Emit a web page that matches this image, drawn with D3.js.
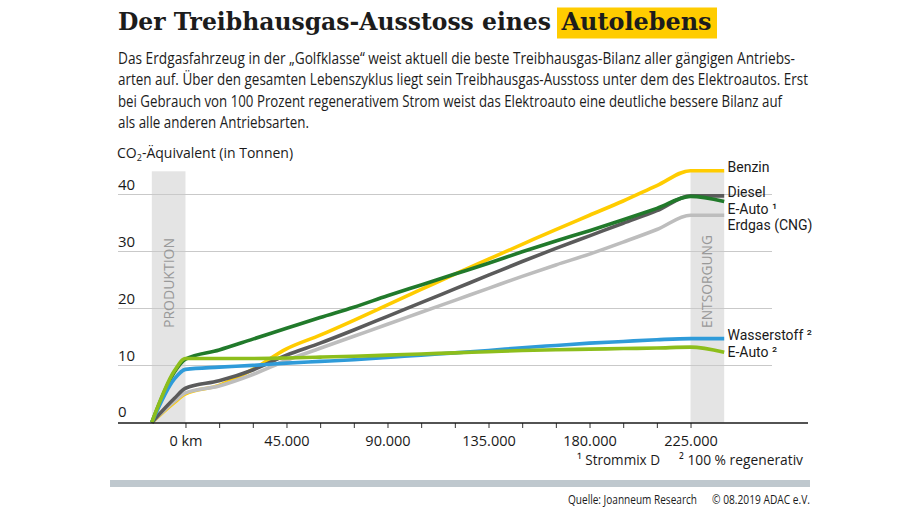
<!DOCTYPE html>
<html><head><meta charset="utf-8">
<script src="https://cdn.jsdelivr.net/npm/d3@7"></script>
<style>
html,body{margin:0;padding:0;background:#fff;}
svg{display:block;}
text{font-family:"Open Sans","Noto Sans",sans-serif;fill:#1a1a1a;}
</style></head>
<body>
<svg id="chart" width="920" height="510"></svg>
<script>
// ---------- data ----------
const km = [-15000, -5000, 0, 15000, 30000, 45000, 60000, 75000, 90000, 105000, 120000, 135000, 150000, 165000, 180000, 195000, 210000, 225000, 240000];
const benzin      = [0, 3.5, 5.0, 6.5, 9.3, 12.9, 15.3, 17.9, 20.6, 23.3, 26.0, 28.6, 31.2, 33.8, 36.3, 38.8, 41.5, 44.1, 44.1];
const diesel      = [0, 4.2, 6.0, 7.3, 9.2, 11.8, 13.9, 16.2, 18.6, 21.0, 23.4, 25.8, 28.2, 30.5, 32.7, 34.9, 37.1, 39.7, 39.7];
const eAutoMix    = [0, 8.8, 11.1, 12.7, 14.6, 16.5, 18.4, 20.2, 22.2, 24.1, 26.0, 27.9, 29.9, 31.8, 33.6, 35.5, 37.5, 39.6, 38.7];
const erdgas      = [0, 3.7, 5.2, 6.4, 8.4, 10.9, 13.0, 15.1, 17.2, 19.3, 21.4, 23.5, 25.6, 27.6, 29.5, 31.6, 33.8, 36.3, 36.3];
const wasserstoff = [0, 7.6, 9.3, 9.7, 10.0, 10.4, 10.7, 11.0, 11.4, 11.8, 12.2, 12.6, 13.1, 13.5, 13.9, 14.2, 14.5, 14.7, 14.7];
const eAutoRegen  = [0, 9.0, 11.2, 11.2, 11.2, 11.3, 11.45, 11.6, 11.8, 12.0, 12.2, 12.4, 12.6, 12.75, 12.85, 12.95, 13.05, 13.2, 12.3];

const seriesNames  = ["Benzin", "Erdgas (CNG)", "Diesel", "E-Auto \u00b9", "Wasserstoff \u00b2", "E-Auto \u00b2"];
const seriesValues = [benzin, erdgas, diesel, eAutoMix, wasserstoff, eAutoRegen];
const seriesColors = ["#ffcc00", "#bdbdbd", "#5b5b5b", "#217a2b", "#2f9bd9", "#8dbe1c"];

const yTicks = [0, 10, 20, 30, 40];
const xTicks = [0, 15000, 30000, 45000, 60000, 75000, 90000, 105000, 120000, 135000, 150000, 165000, 180000, 195000, 210000, 225000];
const xTickLabels = {0: "0 km", 45000: "45.000", 90000: "90.000", 135000: "135.000", 180000: "180.000", 225000: "225.000"};
const phaseNames = ["PRODUKTION", "ENTSORGUNG"];
const phaseFrom  = [-15000, 225000];
const phaseTo    = [0, 240000];
const phaseTop   = 44;

const titleMain = "Der Treibhausgas-Ausstoss eines";
const titleHighlight = "Autolebens";
const bodyLines = [
  "Das Erdgasfahrzeug in der \u201eGolfklasse\u201c weist aktuell die beste Treibhausgas-Bilanz aller g\u00e4ngigen Antriebs-",
  "arten auf. \u00dcber den gesamten Lebenszyklus liegt sein Treibhausgas-Ausstoss unter dem des Elektroautos. Erst",
  "bei Gebrauch von 100 Prozent regenerativem Strom weist das Elektroauto eine deutliche bessere Bilanz auf",
  "als alle anderen Antriebsarten."
];

// ---------- drawing ----------
const svg = d3.select("#chart");
const x = d3.scaleLinear().domain([-15000, 240000]).range([151.8, 724.2]);
const y = d3.scaleLinear().domain([0, 44]).range([422.5, 171.3]);

function fit(sel, w) {
  sel.attr("textLength", w).attr("lengthAdjust", "spacingAndGlyphs");
}

// title
svg.append("rect").attr("x", 557).attr("y", 7.5).attr("width", 160).attr("height", 31).attr("fill", "#ffcc00");
svg.append("text").attr("x", 118).attr("y", 30).text(titleMain)
  .style("font-family", "'DejaVu Serif',serif").style("font-weight", "bold").style("font-size", "24px").style("fill", "#1c1c1c")
  .call(fit, 433);
svg.append("text").attr("x", 561.5).attr("y", 30).text(titleHighlight)
  .style("font-family", "'DejaVu Serif',serif").style("font-weight", "bold").style("font-size", "24px").style("fill", "#1c1c1c")
  .call(fit, 150);

// body text
const bodyWidths = [677, 690, 664, 191];
bodyLines.forEach((l, i) => {
  svg.append("text").attr("x", 118).attr("y", 64 + i * 21.4).text(l)
    .style("font-size", "15.5px").style("fill", "#1c1c1c").call(fit, bodyWidths[i]);
});

// y title
const yt = svg.append("text").attr("x", 117).attr("y", 158).style("font-size", "14px");
yt.append("tspan").text("CO");
yt.append("tspan").text("2").attr("dy", 3).style("font-size", "9px");
yt.append("tspan").text("-\u00c4quivalent (in Tonnen)").attr("dy", -3);

// phase bands
phaseNames.forEach((p, i) => {
  svg.append("rect").attr("x", x(phaseFrom[i])).attr("y", y(phaseTop))
    .attr("width", x(phaseTo[i]) - x(phaseFrom[i])).attr("height", y(0) - y(phaseTop))
    .attr("fill", "#e4e4e4");
});

// gridlines & y labels
yTicks.forEach(v => {
  if (v > 0) {
    svg.append("line").attr("x1", 118).attr("x2", 772).attr("y1", Math.round(y(v)) + 0.5).attr("y2", Math.round(y(v)) + 0.5)
      .attr("stroke", "#c9c9c9").attr("stroke-width", 1);
  }
  svg.append("text").attr("x", 118).attr("y", y(v) - (v === 0 ? 6 : 4.5)).text(v).style("font-size", "15px");
});

// phase labels
phaseNames.forEach((p, i) => {
  const cx = (x(phaseFrom[i]) + x(phaseTo[i])) / 2;
  const cy = i === 0 ? 283 : 281.5;
  svg.append("text").attr("transform", `translate(${cx + 5},${cy}) rotate(-90)`)
    .attr("text-anchor", "middle").text(p)
    .style("font-size", "14px").style("font-weight", "500").style("fill", "#999999")
    .call(fit, i === 0 ? 90 : 93);
});

// lines
const line = d3.line().x((d, i) => x(km[i])).y(d => y(d)).curve(d3.curveMonotoneX);
seriesValues.forEach((vals, i) => {
  svg.append("path").datum(vals).attr("d", line)
    .attr("fill", "none").attr("stroke", seriesColors[i]).attr("stroke-width", 3.6)
    .attr("stroke-linejoin", "round").attr("stroke-linecap", "butt");
});

// x axis
const xAxis = d3.axisBottom(x).tickValues(xTicks).tickSize(5).tickPadding(8)
  .tickFormat(d => xTickLabels[d] || "");
const gx = svg.append("g").attr("transform", `translate(0,${Math.round(y(0))})`).call(xAxis);
gx.select(".domain").remove();
gx.selectAll(".tick line").attr("stroke", "#333");
gx.selectAll(".tick text").style("font-size", "14.5px").style("font-family", "'Open Sans',sans-serif").attr("fill", "#1a1a1a");
svg.append("line").attr("x1", 118).attr("x2", 808).attr("y1", Math.round(y(0))).attr("y2", Math.round(y(0)))
  .attr("stroke", "#1a1a1a").attr("stroke-width", 1.6);

// end labels with collision avoidance
const labs = seriesValues.map((v, i) => ({name: seriesNames[i], cy: y(v[v.length - 1]) - 3.5}));
labs.sort((a, b) => a.cy - b.cy);
for (let k = 1; k < labs.length; k++) {
  if (labs[k].cy - labs[k - 1].cy < 16.5) labs[k].cy = labs[k - 1].cy + 16.5;
}
labs.forEach(l => {
  svg.append("text").attr("x", 727.5).attr("y", l.cy + 5).text(l.name)
    .style("font-family", "Roboto,'Liberation Sans',sans-serif").style("font-size", "14px");
});

// footnotes
svg.append("text").attr("x", 577).attr("y", 465).text("\u00b9 Strommix D").style("font-size", "14.5px").call(fit, 83);
svg.append("text").attr("x", 679).attr("y", 465).text("\u00b2 100 % regenerativ").style("font-size", "14.5px").call(fit, 124);

// bottom bar
svg.append("rect").attr("x", 110).attr("y", 480).attr("width", 700).attr("height", 7).attr("fill", "#bfc8ce");

// source
svg.append("text").attr("x", 568).attr("y", 504).text("Quelle:  Joanneum Research").style("font-size", "12px").call(fit, 129);
svg.append("text").attr("x", 712).attr("y", 504).text("\u00a9 08.2019 ADAC e.V.").style("font-size", "12px").call(fit, 98);
</script>
</body></html>
